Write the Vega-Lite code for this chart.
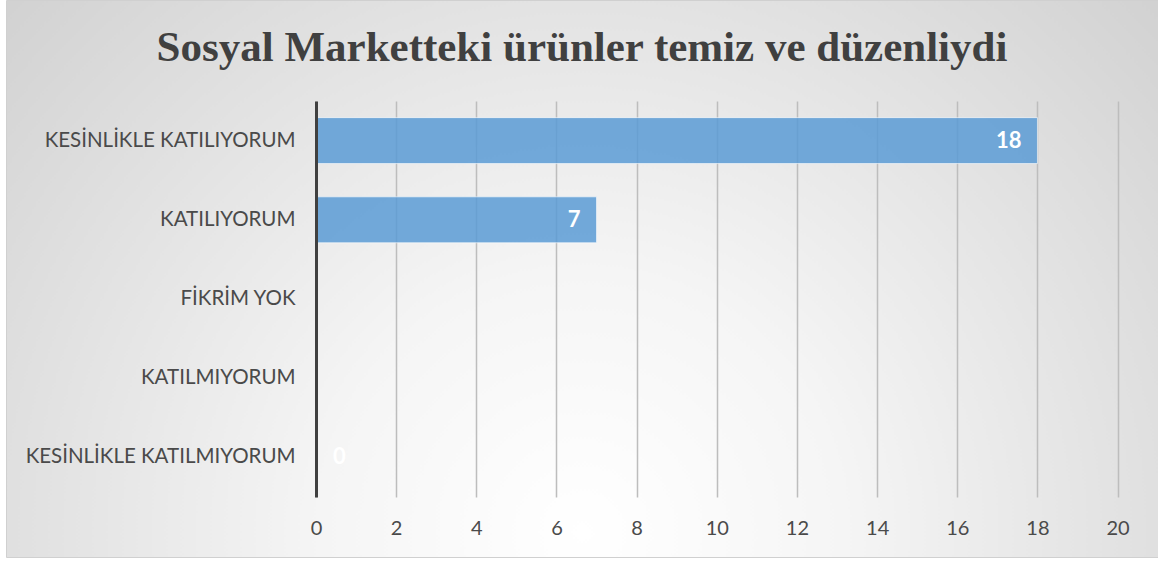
{
  "$schema": "https://vega.github.io/schema/vega-lite/v6.json",
  "width": 1152,
  "height": 557,
  "autosize": {"type": "none"},
  "padding": {"left": 6, "top": 0, "right": 0, "bottom": 6},
  "background": "#ffffff",
  "title": {
    "text": "Sosyal Marketteki ürünler temiz ve düzenliydi",
    "font": "Liberation Serif",
    "fontSize": 43,
    "fontWeight": "bold",
    "color": "#404040",
    "anchor": "middle",
    "frame": "group",
    "baseline": "alphabetic",
    "offset": -104
  },
  "data": {
    "values": [
      {"category": "KESİNLİKLE KATILIYORUM", "value": 18},
      {"category": "KATILIYORUM", "value": 7},
      {"category": "FİKRİM YOK", "value": null},
      {"category": "KATILMIYORUM", "value": null},
      {"category": "KESİNLİKLE KATILMIYORUM", "value": 0}
    ]
  },
  "encoding": {
    "y": {
      "field": "category",
      "type": "nominal",
      "sort": null,
      "scale": {
        "domain": ["KESİNLİKLE KATILIYORUM", "KATILIYORUM", "FİKRİM YOK", "KATILMIYORUM", "KESİNLİKLE KATILMIYORUM"],
        "range": [101, 497],
        "paddingInner": 0.42,
        "paddingOuter": 0.21
      },
      "axis": {
        "title": null,
        "orient": "left",
        "offset": -310,
        "zindex": 1,
        "domain": true,
        "domainColor": "#404040",
        "domainWidth": 3,
        "ticks": false,
        "tickSize": 0,
        "grid": false,
        "labelPadding": 21,
        "labelFont": "Lato",
        "labelFontSize": 20.5,
        "labelColor": "#4a4a4a",
        "labelLimit": 400
      }
    },
    "x": {
      "field": "value",
      "type": "quantitative",
      "scale": {"domain": [0, 20], "range": [310, 1111.6], "nice": false, "zero": true},
      "axis": {
        "title": null,
        "orient": "top",
        "offset": -497,
        "values": [0, 2, 4, 6, 8, 10, 12, 14, 16, 18, 20],
        "domain": false,
        "ticks": false,
        "tickSize": 0,
        "grid": true,
        "gridColor": "#bdbdbd",
        "gridWidth": 1.5,
        "labelPadding": -31,
        "labelBaseline": "middle",
        "labelFlush": false,
        "labelOverlap": false,
        "labelFont": "Lato",
        "labelFontSize": 20,
        "labelColor": "#4a4a4a"
      }
    }
  },
  "layer": [
    {
      "mark": {"type": "bar", "fill": "#5b9bd5", "fillOpacity": 0.85, "stroke": "#ffffff", "strokeOpacity": 0.6, "strokeWidth": 1}
    },
    {
      "transform": [{"filter": "datum.value > 0"}],
      "mark": {"type": "text", "align": "right", "baseline": "middle", "dx": -16, "font": "Lato", "fontSize": 22, "fontWeight": "bold", "color": "#ffffff"},
      "encoding": {"text": {"field": "value", "type": "quantitative", "format": "d"}}
    },
    {
      "transform": [{"filter": "datum.value === 0"}],
      "mark": {"type": "text", "align": "left", "baseline": "middle", "dx": 17, "font": "Lato", "fontSize": 22, "fontWeight": "bold", "color": "#ffffff"},
      "encoding": {"text": {"field": "value", "type": "quantitative", "format": "d"}}
    }
  ],
  "config": {
    "view": {
      "fill": {
        "gradient": "radial",
        "x1": 0.5, "y1": 0.72, "r1": 0,
        "x2": 0.5, "y2": 0.72, "r2": 0.75,
        "stops": [
          {"offset": 0, "color": "#ffffff"},
          {"offset": 0.3, "color": "#f5f5f5"},
          {"offset": 1, "color": "#cccccc"}
        ]
      },
      "stroke": "#d0d0d0",
      "strokeWidth": 1
    }
  }
}
